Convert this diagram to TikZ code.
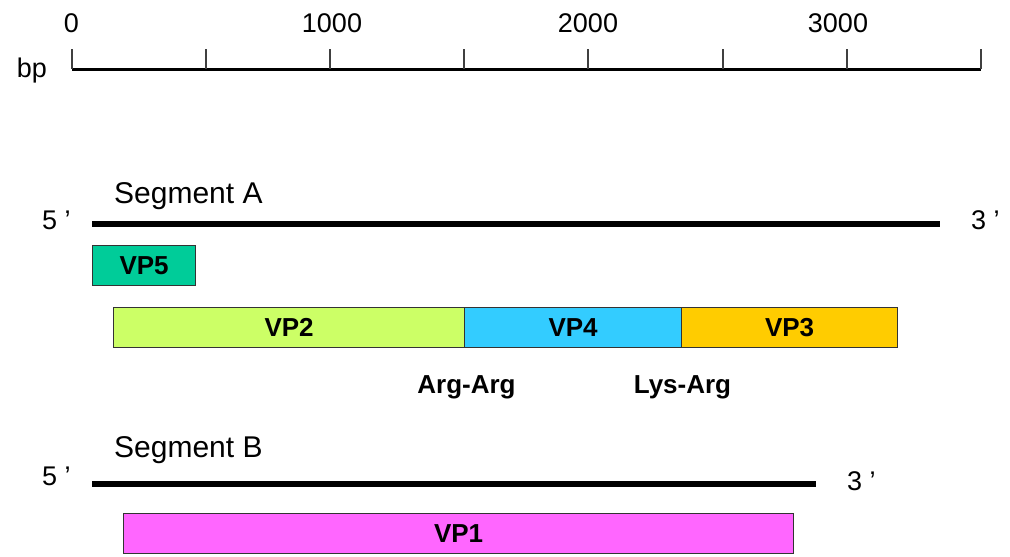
\documentclass[tikz,border=0pt]{standalone}
\usepackage{fontspec}
\setmainfont{Liberation Sans}
\definecolor{cvpfive}{HTML}{00CC99}
\definecolor{cvptwo}{HTML}{CCFF66}
\definecolor{cvpfour}{HTML}{33CCFF}
\definecolor{cvpthree}{HTML}{FFCC00}
\definecolor{cvpone}{HTML}{FF66FF}
\definecolor{edgegray}{HTML}{333333}
\begin{document}
\begin{tikzpicture}[x=1pt,y=-1pt,
  lbl/.style={inner sep=0pt, anchor=base, font=\fontsize{27}{32}\selectfont},
  seglbl/.style={inner sep=0pt, anchor=base west, font=\fontsize{30}{35}\selectfont},
  bold/.style={inner sep=0pt, anchor=base, font=\fontsize{26}{31}\selectfont\bfseries},
  vpbox/.style={draw=edgegray, line width=1.2pt, inner sep=0pt, anchor=north west,
    minimum height=40pt, font=\fontsize{26}{31}\selectfont\bfseries},
  scaleline/.style={line width=3pt, black},
  tickline/.style={line width=1.3pt, black!75},
  segline/.style={line width=5.5pt, black}]
\useasboundingbox (0,0) rectangle (1010,557);

% scale bar
\coordinate (s0) at (72,69);
\coordinate (s1) at (981,69);
\draw[scaleline] (s0) -- (s1);
\foreach \x/\n in {72/t0,206/t1,330/t2,464/t3,588/t4,723/t5,847/t6,981/t7}{
  \coordinate (\n top) at (\x,49);
  \coordinate (\n bot) at (\x,69);
  \draw[tickline] (\n top) -- (\n bot);
}
\node[lbl] (n0) at (71.5,32) {0};
\node[lbl] (n1000) at (332,32) {1000};
\node[lbl] (n2000) at (588,32) {2000};
\node[lbl] (n3000) at (838,32) {3000};
\node[lbl, anchor=base east] (bp) at (47,77) {bp};

% Segment A
\node[seglbl] (sega) at (114,203) {Segment A};
\node[lbl, anchor=base west] (a5) at (42,229) {5 ’};
\node[lbl, anchor=base west] (a3) at (971,229) {3 ’};
\coordinate (la) at (92,224);
\coordinate (ra) at (940,224);
\draw[segline] (la) -- (ra);

\node[vpbox, fill=cvpfive, minimum width=103pt] (vp5) at (92,245) {VP5};
\node[vpbox, fill=cvptwo, minimum width=351pt] (vp2) at (113,307) {VP2};
\node[vpbox, fill=cvpfour, minimum width=217pt] (vp4) at (464,307) {VP4};
\node[vpbox, fill=cvpthree, minimum width=216pt] (vp3) at (681,307) {VP3};

\node[bold] (argarg) at (466.5,393) {Arg-Arg};
\node[bold] (lysarg) at (682.5,393) {Lys-Arg};

% Segment B
\node[seglbl] (segb) at (114,457) {Segment B};
\node[lbl, anchor=base west] (b5) at (42,485) {5 ’};
\node[lbl, anchor=base west] (b3) at (847,490) {3 ’};
\coordinate (lb) at (92,484);
\coordinate (rb) at (816,484);
\draw[segline] (lb) -- (rb);

\node[vpbox, fill=cvpone, minimum width=670pt] (vp1) at (123,513) {VP1};
\end{tikzpicture}
\end{document}
